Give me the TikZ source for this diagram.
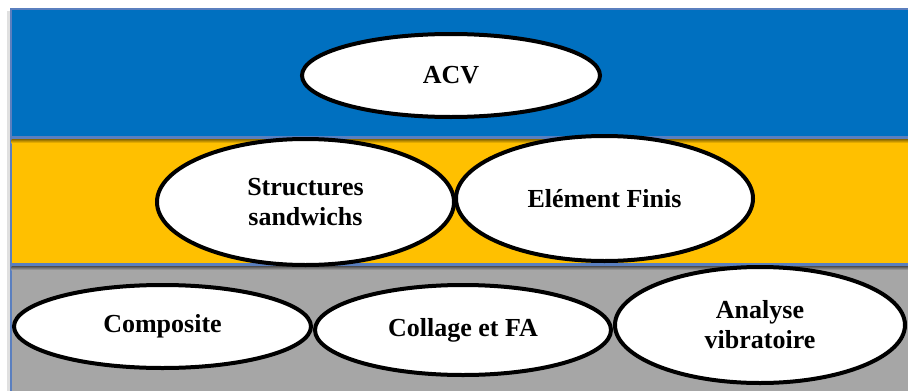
\documentclass[tikz,border=0pt]{standalone}
\usepackage{fontspec}
\setmainfont{Liberation Serif}
\usetikzlibrary{shapes.geometric}
\definecolor{bandblue}{HTML}{0070C0}
\definecolor{bandyellow}{HTML}{FFC000}
\definecolor{bandgray}{HTML}{A6A6A6}
\definecolor{bandedge}{HTML}{5A7FBF}
\tikzset{
  band/.style={draw=bandedge, line width=1.2pt},
  oval/.style={ellipse, draw=black, fill=white, line width=4pt, inner sep=0pt,
    align=center, font=\fontsize{26}{30}\selectfont\bfseries},
}
\begin{document}
\begin{tikzpicture}[x=1pt,y=-1pt]
\useasboundingbox (0,0) rectangle (908,391);
\clip (0,0) rectangle (908,391);
% soft shadows
\fill[black!12] (7,11) rectangle (12,395);
% bands
\filldraw[band, fill=bandblue] (11,9) rectangle (915,137);
\filldraw[band, fill=bandyellow] (11,139) rectangle (915,264);
\shade[top color=bandyellow!60!black, bottom color=bandyellow] (11.6,139.6) rectangle (915,143);
\filldraw[band, fill=bandgray] (11,266) rectangle (915,400);
\shade[top color=bandgray!55!black, bottom color=bandgray] (11.6,266.6) rectangle (915,270);
% ellipses
\node[oval, minimum width=298pt, minimum height=83pt] (acv) at (451,75.5) {ACV};
\node[oval, minimum width=297pt, minimum height=126pt] (struct) at (305.5,202) {Structures\\sandwichs};
\node[oval, minimum width=297pt, minimum height=125pt] (ef) at (604.5,198.5) {Elément Finis};
\node[oval, minimum width=297pt, minimum height=83pt] (comp) at (162.5,326.5) {Composite};
\node[oval, minimum width=296pt, minimum height=90pt] (coll) at (463,330) {Collage et FA};
\node[oval, minimum width=290pt, minimum height=116pt] (vib) at (760,325) {Analyse\\vibratoire};
\end{tikzpicture}
\end{document}
